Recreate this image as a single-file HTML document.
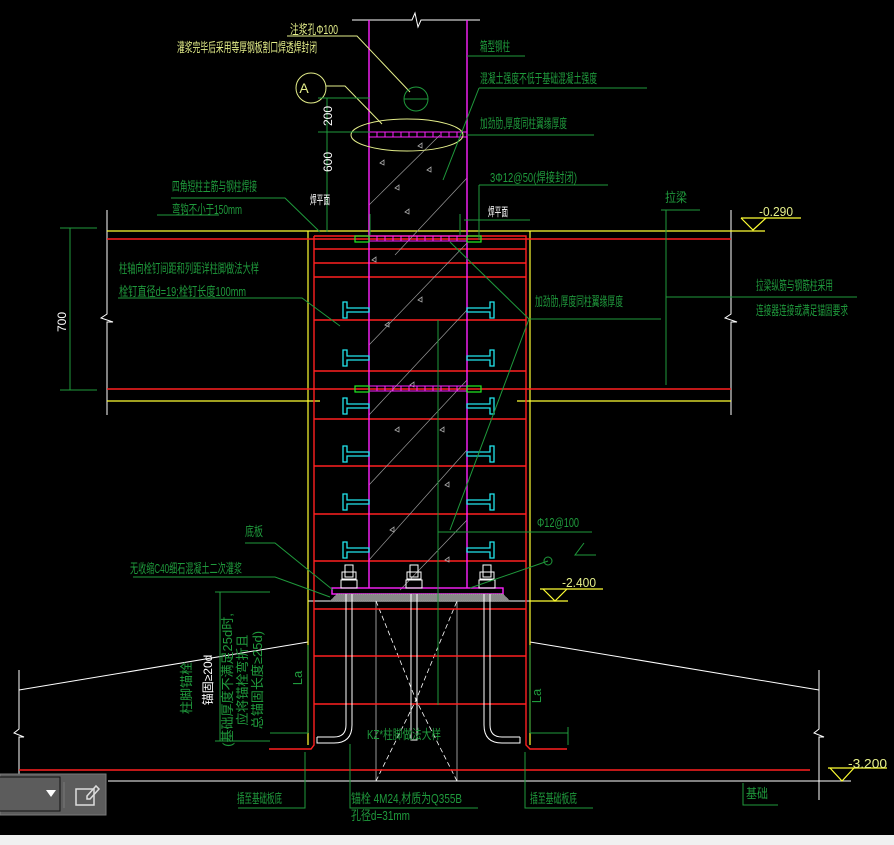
<!DOCTYPE html>
<html><head><meta charset="utf-8"><style>
html,body{margin:0;padding:0;background:#000;width:894px;height:845px;overflow:hidden}
svg{display:block}
text{font-family:"Liberation Sans","Noto Sans CJK SC",sans-serif}
.g{fill:#1f9a3c;font-size:13px}
.y{fill:#e4ee8a;font-size:13px}
.w{fill:#fff;font-size:12px}
</style></head><body>
<svg width="894" height="845" viewBox="0 0 894 845" xmlns="http://www.w3.org/2000/svg">
<rect width="894" height="845" fill="#000"/>
<polyline points="352,20 412,20 415,13 418,27 421,20 480,20" fill="none" stroke="#fff" stroke-width="1"/>
<g stroke="#fff" stroke-width="1" fill="none">
<polyline points="107,210 107,314 101,318 113,322 107,322 107,415"/>
<polyline points="731,210 731,314 725,318 737,322 731,322 731,415"/>
<polyline points="19,670 19,729 14,733 24,737 19,737 19,790"/>
<polyline points="819,670 819,729 814,733 824,737 819,737 819,800"/>
<polyline points="19,690 308,642"/>
<polyline points="530,642 819,690"/>
<line x1="108" y1="781" x2="851" y2="781"/>
<line x1="308" y1="601" x2="530" y2="601"/>
<line x1="376" y1="601" x2="376" y2="781" stroke-width="0.6"/>
<line x1="457" y1="601" x2="457" y2="781" stroke-width="0.6"/>
<polyline points="376,601 416,700 457,601" stroke-dasharray="5,3" stroke-width="0.8"/>
<polyline points="376,781 416,700 457,781" stroke-dasharray="5,3" stroke-width="0.8"/>
</g>
<g stroke="#ffff33" stroke-width="1.2" fill="none">
<line x1="107" y1="231" x2="765" y2="231"/>
<line x1="107" y1="401" x2="320" y2="401"/>
<line x1="517" y1="401" x2="731" y2="401"/>
<line x1="308" y1="231" x2="308" y2="745"/>
<line x1="530" y1="231" x2="530" y2="745"/>
<line x1="741" y1="218" x2="801" y2="218"/>
<polyline points="741,218 753,230 766,218"/>
<line x1="540" y1="589" x2="603" y2="589"/>
<line x1="530" y1="601" x2="568" y2="601"/>
<polyline points="543,589 555,601 567,589"/>
<line x1="828" y1="768" x2="887" y2="768"/>
<polyline points="830,768 842,781 854,768"/>
</g>
<g stroke="#ff2020" stroke-width="1.4" fill="none">
<line x1="107" y1="239" x2="731" y2="239"/>
<line x1="107" y1="389" x2="731" y2="389"/>
<polyline points="314,236 526,236 526,745 530,749 567,749"/>
<polyline points="314,236 314,745 311,749 269,749"/>
<line x1="314" y1="249" x2="526" y2="249"/>
<line x1="314" y1="263" x2="526" y2="263"/>
<line x1="314" y1="277" x2="526" y2="277"/>
<line x1="314" y1="320" x2="526" y2="320"/>
<line x1="314" y1="371" x2="526" y2="371"/>
<line x1="314" y1="419" x2="526" y2="419"/>
<line x1="314" y1="466" x2="526" y2="466"/>
<line x1="314" y1="514" x2="526" y2="514"/>
<line x1="314" y1="561" x2="526" y2="561"/>
<line x1="314" y1="609" x2="526" y2="609"/>
<line x1="314" y1="656" x2="526" y2="656"/>
<line x1="314" y1="704" x2="526" y2="704"/>
<line x1="19" y1="770" x2="810" y2="770"/>
</g>
<g stroke="#999" stroke-width="0.7" fill="none">
<line x1="369" y1="205" x2="440" y2="135"/>
<line x1="395" y1="255" x2="467" y2="178"/>
<line x1="369" y1="345" x2="467" y2="243"/>
<line x1="369" y1="415" x2="467" y2="310"/>
<line x1="369" y1="485" x2="467" y2="380"/>
<line x1="369" y1="560" x2="467" y2="450"/>
<line x1="400" y1="590" x2="467" y2="520"/>
</g>
<g fill="none" stroke="#aaa" stroke-width="0.8">
<path d="M418,146 l4,-3 0,5z M380,163 l4,-3 0,5z M427,170 l4,-3 0,5z M395,188 l4,-3 0,5z M405,212 l4,-3 0,5z M385,325 l4,-3 0,5z M418,300 l4,-3 0,5z M410,385 l4,-3 0,5z M395,430 l4,-3 0,5z M445,485 l4,-3 0,5z M390,530 l4,-3 0,5z M445,560 l4,-3 0,5z M372,260 l4,-3 0,5z M440,430 l4,-3 0,5z"/>
</g>
<g stroke="#ff22ff" stroke-width="1.4" fill="none">
<line x1="369" y1="20" x2="369" y2="588"/>
<line x1="467" y1="20" x2="467" y2="588"/>
<rect x="332" y="588" width="171" height="6"/>
</g>
<g stroke="#ff22ff" stroke-width="1" fill="none">
<rect x="369" y="132" width="98" height="5"/>
<rect x="369" y="236" width="98" height="5"/>
<rect x="369" y="386" width="98" height="5"/>
</g>
<g stroke="#ff22ff" stroke-width="1">
<path d="M377,132v5M385,132v5M393,132v5M401,132v5M409,132v5M417,132v5M425,132v5M433,132v5M441,132v5M449,132v5M457,132v5"/>
<path d="M377,236v5M385,236v5M393,236v5M401,236v5M409,236v5M417,236v5M425,236v5M433,236v5M441,236v5M449,236v5M457,236v5"/>
<path d="M377,386v5M385,386v5M393,386v5M401,386v5M409,386v5M417,386v5M425,386v5M433,386v5M441,386v5M449,386v5M457,386v5"/>
</g>
<g stroke="#22ee22" stroke-width="1.2" fill="none">
<rect x="355" y="236" width="14" height="6"/><rect x="467" y="236" width="14" height="6"/>
<rect x="355" y="386" width="14" height="6"/><rect x="467" y="386" width="14" height="6"/>
</g>
<polygon points="330,601 337,594 503,594 510,601" fill="#888"/>
<polygon points="330,601 337,594 503,594 510,601" fill="none" stroke="#ccc" stroke-width="0.5" stroke-dasharray="1,1"/>
<g stroke="#22e6ee" stroke-width="1.3" fill="none">
<path id="sl" d="M343,302 h4 v6 h22 v4 h-22 v6 h-4z"/>
<use href="#sl" y="48"/><use href="#sl" y="96"/><use href="#sl" y="144"/><use href="#sl" y="192"/><use href="#sl" y="240"/>
<path id="sr" d="M494,302 h-4 v6 h-23 v4 h23 v6 h4z"/>
<use href="#sr" y="48"/><use href="#sr" y="96"/><use href="#sr" y="144"/><use href="#sr" y="192"/><use href="#sr" y="240"/>
</g>
<g stroke="#fff" stroke-width="1" fill="none">
<rect x="345" y="565" width="8" height="12"/><rect x="342" y="572" width="14" height="7"/><rect x="341" y="580" width="16" height="8"/>
<path d="M346,594 V725 q0,12 -12,12 h-17 M352,594 V725 q0,18 -18,18 h-17 v-6"/>
<rect x="410" y="565" width="8" height="12"/><rect x="407" y="572" width="14" height="7"/><rect x="406" y="580" width="16" height="8"/>
<path d="M411,594 V740 h6 V594"/>
<rect x="483" y="565" width="8" height="12"/><rect x="480" y="572" width="14" height="7"/><rect x="479" y="580" width="16" height="8"/>
<path d="M490,594 V725 q0,12 12,12 h18 M484,594 V725 q0,18 18,18 h18 v-6"/>
</g>
<g stroke="#e4ee8a" stroke-width="1" fill="none">
<circle cx="311" cy="88" r="15"/>
<polyline points="326,86 345,86 382,124"/>
<ellipse cx="407" cy="135" rx="56" ry="16"/>
<polyline points="287,36 357,36 410,92"/>
</g>
<text x="304" y="93" fill="#e4ee8a" font-size="14" text-anchor="middle">A</text>
<g stroke="#1f9a3c" stroke-width="1" fill="none">
<circle cx="416" cy="99" r="12"/>
<line x1="404" y1="99" x2="428" y2="99"/>
<polyline points="467,56 525,56"/>
<polyline points="479,88 647,88"/><line x1="479" y1="88" x2="443" y2="180"/>
<polyline points="467,135 594,135"/>
<polyline points="479,185 608,185"/><line x1="479" y1="185" x2="479" y2="240"/>
<polyline points="171,198 285,198 320,232"/>
<line x1="157" y1="215" x2="219" y2="215"/><line x1="464" y1="220" x2="530" y2="220"/>
<line x1="370" y1="214" x2="370" y2="235"/><line x1="460" y1="214" x2="460" y2="235"/>
<polyline points="118,298 302,298 340,326"/>
<polyline points="661,210 700,210"/><line x1="666" y1="210" x2="666" y2="385"/>
<polyline points="666,297 857,297"/>
<polyline points="529,319 661,319"/><line x1="529" y1="319" x2="450" y2="242"/><line x1="529" y1="319" x2="450" y2="530"/>
<line x1="70" y1="228" x2="70" y2="390"/><line x1="60" y1="228" x2="97" y2="228"/><line x1="60" y1="390" x2="97" y2="390"/>
<line x1="327" y1="98" x2="327" y2="232"/><line x1="318" y1="98" x2="370" y2="98"/><line x1="318" y1="132" x2="370" y2="132"/>
<line x1="438" y1="320" x2="438" y2="705"/>
<polyline points="438,532 592,532"/><polyline points="584,543 575,555 596,555"/><polyline points="548,561 470,588"/>
<circle cx="548" cy="561" r="4"/>
<polyline points="245,543 275,543 333,590"/>
<polyline points="133,577 275,577 330,597"/>
<line x1="220" y1="592" x2="220" y2="741"/><line x1="215" y1="592" x2="270" y2="592"/><line x1="215" y1="741" x2="270" y2="741"/>
<line x1="308" y1="645" x2="308" y2="733"/><line x1="270" y1="733" x2="308" y2="733"/>
<line x1="530" y1="645" x2="530" y2="733"/><line x1="530" y1="733" x2="568" y2="733"/><line x1="568" y1="727" x2="568" y2="745"/>
<polyline points="305,752 305,808 238,808"/>
<polyline points="350,744 350,808 478,808"/>
<polyline points="525,752 525,808 593,808"/>
<polyline points="743,783 743,805 778,805"/>
</g>
<g lengthAdjust="spacingAndGlyphs">
<text class="y" x="290" y="34" textLength="48" lengthAdjust="spacingAndGlyphs">注浆孔Φ100</text>
<text class="y" x="177" y="52" textLength="140" lengthAdjust="spacingAndGlyphs">灌浆完毕后采用等厚钢板割口焊透焊封闭</text>
<text class="g" x="480" y="51" textLength="30" lengthAdjust="spacingAndGlyphs">箱型钢柱</text>
<text class="g" x="480" y="83" textLength="117" lengthAdjust="spacingAndGlyphs">混凝土强度不低于基础混凝土强度</text>
<text class="g" x="480" y="128" textLength="87" lengthAdjust="spacingAndGlyphs">加劲肋,厚度同柱翼缘厚度</text>
<text class="g" x="490" y="182" textLength="87" lengthAdjust="spacingAndGlyphs">3Φ12@50(焊接封闭)</text>
<text class="g" x="172" y="191" textLength="85" lengthAdjust="spacingAndGlyphs">四角短柱主筋与钢柱焊接</text>
<text class="g" x="172" y="214" textLength="70" lengthAdjust="spacingAndGlyphs">弯钩不小于150mm</text>
<text class="w" x="310" y="204" textLength="20" lengthAdjust="spacingAndGlyphs">焊平面</text>
<text class="w" x="488" y="216" textLength="20" lengthAdjust="spacingAndGlyphs">焊平面</text>
<text class="g" x="665" y="202" textLength="22" lengthAdjust="spacingAndGlyphs">拉梁</text>
<text class="y" x="759" y="216" textLength="34" lengthAdjust="spacingAndGlyphs">-0.290</text>
<text class="g" x="119" y="273" textLength="140" lengthAdjust="spacingAndGlyphs">柱轴向栓钉间距和列距详柱脚做法大样</text>
<text class="g" x="119" y="296" textLength="127" lengthAdjust="spacingAndGlyphs">栓钉直径d=19;栓钉长度100mm</text>
<text class="g" x="535" y="306" textLength="88" lengthAdjust="spacingAndGlyphs">加劲肋,厚度同柱翼缘厚度</text>
<text class="g" x="756" y="290" textLength="77" lengthAdjust="spacingAndGlyphs">拉梁纵筋与钢筋柱采用</text>
<text class="g" x="756" y="315" textLength="92" lengthAdjust="spacingAndGlyphs">连接器连接或满足锚固要求</text>
<text class="w" transform="translate(66,322) rotate(-90)" text-anchor="middle">700</text>
<text class="w" transform="translate(332,116) rotate(-90)" text-anchor="middle">200</text>
<text class="w" transform="translate(332,162) rotate(-90)" text-anchor="middle">600</text>
<text class="g" x="537" y="527" textLength="42" lengthAdjust="spacingAndGlyphs">Φ12@100</text>
<text class="g" x="245" y="536" textLength="18" lengthAdjust="spacingAndGlyphs">底板</text>
<text class="g" x="130" y="573" textLength="112" lengthAdjust="spacingAndGlyphs">无收缩C40细石混凝土二次灌浆</text>
<text class="y" x="562" y="587" textLength="34" lengthAdjust="spacingAndGlyphs">-2.400</text>
<text class="g" transform="translate(191,688) rotate(-90)" text-anchor="middle">柱脚锚栓</text>
<text class="w" transform="translate(212,680) rotate(-90)" text-anchor="middle">锚固≥20d</text>
<text class="g" font-size="10" transform="translate(232,680) rotate(-90)" text-anchor="middle">(基础厚度不满足25d时,</text>
<text class="g" font-size="10" transform="translate(247,680) rotate(-90)" text-anchor="middle">应将锚栓弯折且</text>
<text class="g" font-size="10" transform="translate(262,680) rotate(-90)" text-anchor="middle">总锚固长度≥25d)</text>
<text class="g" transform="translate(302,678) rotate(-90)" text-anchor="middle">La</text>
<text class="g" transform="translate(541,696) rotate(-90)" text-anchor="middle">La</text>
<text class="g" x="367" y="739" textLength="74" lengthAdjust="spacingAndGlyphs">KZ*柱脚做法大样</text>
<text class="y" x="848" y="768" textLength="39" lengthAdjust="spacingAndGlyphs">-3.200</text>
<text class="g" x="237" y="803" textLength="45" lengthAdjust="spacingAndGlyphs">插至基础板底</text>
<text class="g" x="351" y="803" textLength="111" lengthAdjust="spacingAndGlyphs">锚栓 4M24,材质为Q355B</text>
<text class="g" x="351" y="820" textLength="59" lengthAdjust="spacingAndGlyphs">孔径d=31mm</text>
<text class="g" x="530" y="803" textLength="47" lengthAdjust="spacingAndGlyphs">插至基础板底</text>
<text class="g" x="746" y="798" textLength="22" lengthAdjust="spacingAndGlyphs">基础</text>
</g>
<rect x="0" y="774" width="106" height="41" fill="#5c5c5c" stroke="#7a7a7a"/>
<rect x="-1" y="777" width="61" height="34" fill="#5c5c5c" stroke="#111"/>
<polygon points="46,790 56,790 51,797" fill="#fff"/>
<line x1="64" y1="782" x2="64" y2="808" stroke="#777"/>
<g stroke="#ddd" stroke-width="1.5" fill="none"><rect x="76" y="789" width="18" height="16"/><path d="M87,796 l9,-10 3,3 -9,10 h-3z"/></g>
<rect x="0" y="835" width="894" height="10" fill="#f0f0f0"/>
</svg>
</body></html>
